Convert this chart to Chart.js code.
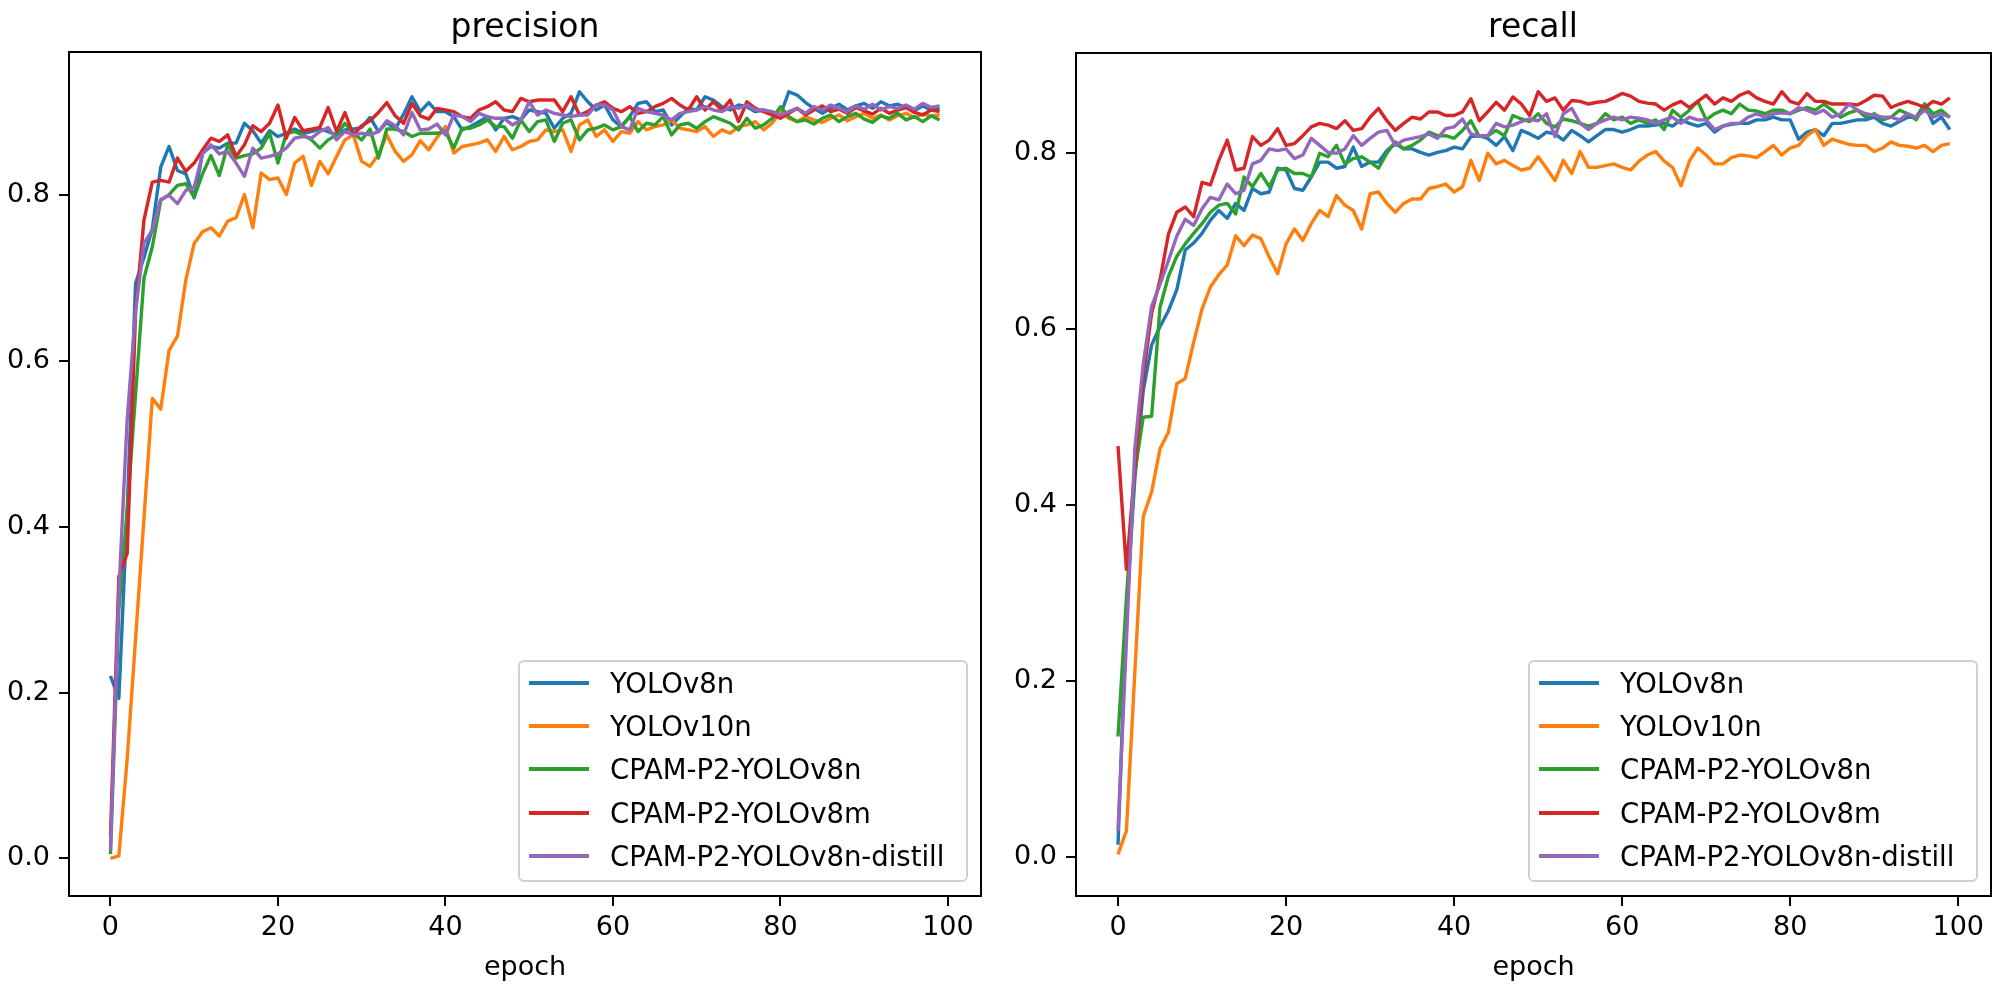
<!DOCTYPE html>
<html>
<head>
<meta charset="utf-8">
<title>precision / recall</title>
<script src="https://cdn.jsdelivr.net/npm/chart.js@4"></script>
<style>
    body {
        margin: 0;
        background: #ffffff;
        font-family: "DejaVu Sans", sans-serif;
    }

    #wrap {
        position: relative;
        width: 2000px;
        height: 989px;
    }

    .panel {
        position: absolute;
        top: 0;
        width: 1000px;
        height: 989px;
    }

    .panel canvas {
        position: absolute;
        left: 0;
        top: 0;
    }

    .title {
        position: absolute;
        top: 9px;
        width: 600px;
        height: 33px;
        line-height: 33px;
        font-size: 33px;
        text-align: center;
        color: #000;
    }

    .legend {
        position: absolute;
        top: 660px;
        width: 450px;
        height: 222px;
        box-sizing: border-box;
        background: rgba(255,255,255,0.8);
        border: 2px solid #d0d0d0;
        border-radius: 6px;
    }

    .row {
        position: absolute;
        left: 0;
        width: 100%;
        height: 43px;
    }

    .row .handle {
        position: absolute;
        left: 9px;
        top: 19px;
        width: 60px;
        height: 4px;
    }

    .row .label {
        position: absolute;
        left: 90px;
        top: 0;
        line-height: 43px;
        font-size: 27.5px;
        color: #000;
        white-space: nowrap;
    }
</style>
</head>
<body>

<div id="wrap">
    <div class="panel" style="left:0">
        <canvas id="precisionChart" width="1000" height="989"></canvas>
        <div class="title" style="left:225px">precision</div>
        <div class="legend" id="precisionLegend" style="left:518px"></div>
    </div>
    <div class="panel" style="left:1000px">
        <canvas id="recallChart" width="1000" height="989"></canvas>
        <div class="title" style="left:233px">recall</div>
        <div class="legend" id="recallLegend" style="left:528px"></div>
    </div>
</div>

<script>
// categories
const epochs = Array.from({ length: 100 }, (_, i) => i);
const modelNames = ['YOLOv8n', 'YOLOv10n', 'CPAM-P2-YOLOv8n', 'CPAM-P2-YOLOv8m', 'CPAM-P2-YOLOv8n-distill'];

// tick labels
const xTicks = [0, 20, 40, 60, 80, 100];
const precisionTicks = [0.0, 0.2, 0.4, 0.6, 0.8];
const recallTicks = [0.0, 0.2, 0.4, 0.6, 0.8];

// precision
const precisionYOLOv8n = [
    0.220, 0.193, 0.420, 0.694, 0.725, 0.760, 0.834, 0.859, 0.830, 0.826,
    0.797, 0.851, 0.859, 0.857, 0.863, 0.863, 0.887, 0.878, 0.863, 0.878,
    0.871, 0.875, 0.880, 0.875, 0.877, 0.880, 0.877, 0.873, 0.879, 0.880,
    0.882, 0.894, 0.877, 0.888, 0.880, 0.898, 0.919, 0.901, 0.912, 0.901,
    0.901, 0.895, 0.879, 0.883, 0.889, 0.895, 0.879, 0.893, 0.895, 0.891,
    0.903, 0.901, 0.899, 0.881, 0.893, 0.899, 0.925, 0.913, 0.903, 0.909,
    0.891, 0.883, 0.895, 0.911, 0.913, 0.901, 0.903, 0.885, 0.895, 0.905,
    0.903, 0.919, 0.915, 0.907, 0.903, 0.909, 0.907, 0.901, 0.903, 0.899,
    0.897, 0.925, 0.921, 0.912, 0.905, 0.899, 0.905, 0.910, 0.903, 0.908,
    0.911, 0.905, 0.913, 0.908, 0.910, 0.906, 0.902, 0.908, 0.903, 0.905
];
const precisionYOLOv10n = [
    0.000, 0.003, 0.120, 0.265, 0.410, 0.555, 0.542, 0.613, 0.630, 0.698,
    0.742, 0.756, 0.761, 0.751, 0.769, 0.773, 0.801, 0.761, 0.827, 0.819,
    0.821, 0.801, 0.839, 0.847, 0.812, 0.841, 0.826, 0.847, 0.867, 0.873,
    0.841, 0.835, 0.849, 0.873, 0.853, 0.841, 0.849, 0.866, 0.855, 0.870,
    0.883, 0.851, 0.859, 0.861, 0.863, 0.867, 0.853, 0.871, 0.855, 0.859,
    0.865, 0.867, 0.879, 0.877, 0.879, 0.853, 0.885, 0.891, 0.871, 0.879,
    0.865, 0.877, 0.875, 0.889, 0.879, 0.883, 0.885, 0.891, 0.881, 0.879,
    0.877, 0.883, 0.871, 0.879, 0.875, 0.883, 0.885, 0.889, 0.879, 0.887,
    0.901, 0.893, 0.889, 0.895, 0.891, 0.888, 0.893, 0.897, 0.890, 0.895,
    0.899, 0.893, 0.897, 0.891, 0.896, 0.899, 0.894, 0.898, 0.896, 0.897
];
const precisionCPAMv8n = [
    0.005, 0.300, 0.420, 0.560, 0.700, 0.738, 0.794, 0.801, 0.812, 0.814,
    0.798, 0.826, 0.848, 0.824, 0.861, 0.845, 0.848, 0.850, 0.857, 0.875,
    0.839, 0.875, 0.877, 0.873, 0.867, 0.857, 0.867, 0.873, 0.887, 0.875,
    0.867, 0.880, 0.845, 0.880, 0.880, 0.877, 0.871, 0.875, 0.875, 0.875,
    0.877, 0.857, 0.881, 0.881, 0.885, 0.891, 0.883, 0.883, 0.869, 0.891,
    0.877, 0.889, 0.891, 0.865, 0.887, 0.891, 0.867, 0.879, 0.881, 0.885,
    0.879, 0.883, 0.895, 0.877, 0.887, 0.885, 0.895, 0.873, 0.885, 0.887,
    0.881, 0.889, 0.895, 0.891, 0.887, 0.879, 0.893, 0.881, 0.885, 0.893,
    0.907, 0.895, 0.889, 0.891, 0.886, 0.893, 0.897, 0.889, 0.895, 0.899,
    0.892, 0.888, 0.896, 0.893, 0.899, 0.891, 0.895, 0.889, 0.896, 0.891
];
const precisionCPAMv8m = [
    0.026, 0.340, 0.368, 0.660, 0.770, 0.816, 0.818, 0.816, 0.845, 0.829,
    0.839, 0.855, 0.869, 0.865, 0.873, 0.847, 0.861, 0.884, 0.877, 0.887,
    0.909, 0.869, 0.894, 0.878, 0.880, 0.882, 0.906, 0.877, 0.900, 0.873,
    0.884, 0.890, 0.900, 0.912, 0.896, 0.887, 0.911, 0.896, 0.892, 0.905,
    0.903, 0.901, 0.895, 0.893, 0.903, 0.907, 0.913, 0.903, 0.901, 0.917,
    0.913, 0.915, 0.915, 0.915, 0.901, 0.919, 0.897, 0.901, 0.909, 0.913,
    0.905, 0.901, 0.907, 0.899, 0.901, 0.907, 0.911, 0.917, 0.909, 0.903,
    0.919, 0.903, 0.913, 0.903, 0.915, 0.889, 0.913, 0.905, 0.901, 0.897,
    0.893, 0.899, 0.905, 0.897, 0.903, 0.908, 0.901, 0.904, 0.899, 0.906,
    0.902, 0.898, 0.905, 0.899, 0.903, 0.906, 0.900, 0.897, 0.903, 0.901
];
const precisionDistill = [
    0.010, 0.320, 0.530, 0.660, 0.742, 0.758, 0.795, 0.800, 0.790, 0.806,
    0.810, 0.850, 0.861, 0.850, 0.853, 0.839, 0.823, 0.857, 0.845, 0.847,
    0.850, 0.857, 0.869, 0.871, 0.869, 0.877, 0.882, 0.867, 0.877, 0.873,
    0.875, 0.873, 0.877, 0.890, 0.884, 0.873, 0.900, 0.879, 0.880, 0.886,
    0.873, 0.897, 0.895, 0.889, 0.899, 0.895, 0.893, 0.893, 0.885, 0.891,
    0.913, 0.897, 0.903, 0.899, 0.897, 0.895, 0.897, 0.897, 0.909, 0.909,
    0.903, 0.883, 0.879, 0.905, 0.901, 0.899, 0.897, 0.891, 0.899, 0.901,
    0.903, 0.907, 0.903, 0.901, 0.907, 0.905, 0.909, 0.903, 0.903, 0.901,
    0.897, 0.901, 0.905, 0.899, 0.907, 0.903, 0.909, 0.905, 0.901, 0.908,
    0.904, 0.910, 0.903, 0.907, 0.905, 0.909, 0.904, 0.911, 0.906, 0.908
];

// recall
const recallYOLOv8n = [
    0.014, 0.280, 0.430, 0.530, 0.582, 0.603, 0.621, 0.645, 0.690, 0.698,
    0.709, 0.724, 0.735, 0.726, 0.743, 0.735, 0.760, 0.754, 0.756, 0.783,
    0.781, 0.760, 0.758, 0.773, 0.790, 0.790, 0.783, 0.785, 0.807, 0.785,
    0.790, 0.790, 0.803, 0.811, 0.805, 0.805, 0.801, 0.798, 0.801, 0.803,
    0.807, 0.805, 0.819, 0.820, 0.817, 0.809, 0.819, 0.803, 0.826, 0.822,
    0.817, 0.824, 0.822, 0.815, 0.826, 0.820, 0.813, 0.820, 0.827, 0.827,
    0.824, 0.827, 0.831, 0.831, 0.832, 0.834, 0.831, 0.838, 0.834, 0.831,
    0.834, 0.824, 0.831, 0.833, 0.834, 0.834, 0.838, 0.838, 0.841, 0.838,
    0.838, 0.816, 0.824, 0.827, 0.820, 0.834, 0.834, 0.836, 0.838, 0.838,
    0.841, 0.834, 0.831, 0.836, 0.841, 0.841, 0.856, 0.834, 0.841, 0.827
];
const recallYOLOv10n = [
    0.003, 0.030, 0.210, 0.387, 0.415, 0.464, 0.483, 0.538, 0.544, 0.585,
    0.623, 0.648, 0.662, 0.673, 0.706, 0.695, 0.707, 0.703, 0.682, 0.663,
    0.697, 0.714, 0.701, 0.720, 0.735, 0.728, 0.752, 0.741, 0.735, 0.714,
    0.754, 0.756, 0.743, 0.733, 0.743, 0.748, 0.748, 0.760, 0.762, 0.765,
    0.756, 0.762, 0.792, 0.769, 0.800, 0.788, 0.792, 0.786, 0.781, 0.783,
    0.796, 0.783, 0.769, 0.792, 0.777, 0.802, 0.784, 0.784, 0.786, 0.788,
    0.784, 0.781, 0.791, 0.798, 0.802, 0.791, 0.784, 0.763, 0.791, 0.806,
    0.798, 0.788, 0.788, 0.795, 0.798, 0.797, 0.795, 0.802, 0.809, 0.798,
    0.806, 0.809, 0.820, 0.827, 0.809, 0.816, 0.813, 0.810, 0.809, 0.809,
    0.802, 0.806, 0.813, 0.809, 0.808, 0.806, 0.809, 0.802, 0.809, 0.811
];
const recallCPAMv8n = [
    0.137, 0.294, 0.437, 0.500, 0.501, 0.625, 0.660, 0.683, 0.697, 0.709,
    0.720, 0.733, 0.741, 0.743, 0.731, 0.773, 0.762, 0.777, 0.762, 0.781,
    0.783, 0.777, 0.777, 0.773, 0.800, 0.796, 0.809, 0.788, 0.794, 0.796,
    0.790, 0.783, 0.800, 0.813, 0.805, 0.809, 0.815, 0.824, 0.820, 0.820,
    0.817, 0.826, 0.837, 0.819, 0.820, 0.826, 0.820, 0.843, 0.839, 0.836,
    0.845, 0.834, 0.830, 0.839, 0.837, 0.834, 0.831, 0.834, 0.845, 0.838,
    0.841, 0.834, 0.838, 0.834, 0.838, 0.827, 0.849, 0.841, 0.849, 0.859,
    0.838, 0.845, 0.849, 0.845, 0.856, 0.849, 0.848, 0.845, 0.849, 0.849,
    0.845, 0.849, 0.852, 0.849, 0.856, 0.849, 0.841, 0.846, 0.849, 0.841,
    0.845, 0.838, 0.841, 0.849, 0.845, 0.838, 0.856, 0.845, 0.849, 0.841
];
const recallCPAMv8m = [
    0.467, 0.327, 0.442, 0.546, 0.618, 0.656, 0.708, 0.733, 0.739, 0.728,
    0.767, 0.764, 0.792, 0.815, 0.781, 0.783, 0.819, 0.809, 0.815, 0.828,
    0.809, 0.811, 0.820, 0.830, 0.834, 0.832, 0.828, 0.837, 0.826, 0.828,
    0.841, 0.851, 0.837, 0.826, 0.834, 0.841, 0.839, 0.847, 0.847, 0.843,
    0.843, 0.847, 0.862, 0.837, 0.847, 0.858, 0.849, 0.864, 0.856, 0.843,
    0.870, 0.859, 0.863, 0.849, 0.860, 0.859, 0.856, 0.858, 0.859, 0.863,
    0.868, 0.865, 0.859, 0.857, 0.856, 0.849, 0.855, 0.859, 0.852, 0.859,
    0.866, 0.856, 0.863, 0.859, 0.866, 0.870, 0.863, 0.859, 0.856, 0.870,
    0.859, 0.856, 0.868, 0.859, 0.859, 0.856, 0.856, 0.856, 0.855, 0.860,
    0.866, 0.865, 0.852, 0.856, 0.859, 0.856, 0.852, 0.859, 0.856, 0.863
];
const recallDistill = [
    0.030, 0.245, 0.464, 0.560, 0.626, 0.651, 0.678, 0.706, 0.725, 0.718,
    0.737, 0.750, 0.747, 0.765, 0.754, 0.758, 0.788, 0.792, 0.805, 0.803,
    0.805, 0.794, 0.798, 0.817, 0.809, 0.801, 0.800, 0.805, 0.820, 0.809,
    0.817, 0.824, 0.826, 0.809, 0.815, 0.817, 0.819, 0.822, 0.817, 0.828,
    0.830, 0.839, 0.822, 0.820, 0.820, 0.834, 0.830, 0.832, 0.836, 0.839,
    0.837, 0.845, 0.819, 0.845, 0.851, 0.834, 0.827, 0.834, 0.838, 0.841,
    0.838, 0.841, 0.840, 0.838, 0.834, 0.838, 0.841, 0.834, 0.841, 0.838,
    0.838, 0.827, 0.831, 0.834, 0.834, 0.841, 0.845, 0.841, 0.845, 0.846,
    0.845, 0.852, 0.849, 0.845, 0.849, 0.841, 0.845, 0.856, 0.849, 0.845,
    0.843, 0.841, 0.841, 0.838, 0.845, 0.841, 0.849, 0.841, 0.845, 0.841
];

// matplotlib tab10
const modelColors = ['#1f77b4', '#ff7f0e', '#2ca02c', '#d62728', '#9467bd'];

Chart.defaults.font.family = '"DejaVu Sans", sans-serif';
Chart.defaults.font.size = 27;
Chart.defaults.color = '#000';

// box around the plot area, like matplotlib spines
const framePlugin = {
    id: 'frame',
    afterDatasetsDraw(chart) {
        const { ctx, chartArea: a } = chart;
        ctx.save();
        ctx.strokeStyle = '#000';
        ctx.lineWidth = 2;
        ctx.strokeRect(a.left, a.top, a.right - a.left, a.bottom - a.top);
        ctx.restore();
    }
};

function makePanel(canvasId, legendId, series, yMin, yMax, yTicks, yWidth, padRight, padTop, xMin, xMax) {
    const datasets = series.map((values, i) => ({
        label: modelNames[i],
        data: values.map((v, j) => ({ x: epochs[j], y: v })),
        borderColor: modelColors[i],
        backgroundColor: modelColors[i],
        borderWidth: 3.4,
        borderJoinStyle: 'round',
        pointRadius: 0,
        tension: 0,
        fill: false,
        order: series.length - 1 - i
    }));

    new Chart(document.getElementById(canvasId), {
        type: 'line',
        data: { datasets },
        options: {
            responsive: false,
            animation: false,
            devicePixelRatio: 1,
            layout: { padding: { left: 0, right: padRight, top: padTop, bottom: 0 } },
            plugins: {
                legend: { display: false },
                tooltip: { enabled: false }
            },
            scales: {
                x: {
                    type: 'linear',
                    min: xMin,
                    max: xMax,
                    afterBuildTicks: (s) => { s.ticks = xTicks.map(v => ({ value: v })); },
                    afterFit: (s) => { s.height = 93; },
                    ticks: { padding: 6, maxRotation: 0, callback: (v) => String(v) },
                    grid: { drawOnChartArea: false, tickLength: 10, color: '#000', lineWidth: 2 },
                    border: { display: false },
                    title: { display: true, text: 'epoch', font: { size: 27 }, padding: { top: 0, bottom: 5 } }
                },
                y: {
                    type: 'linear',
                    min: yMin,
                    max: yMax,
                    afterBuildTicks: (s) => { s.ticks = yTicks.map(v => ({ value: v })); },
                    afterFit: (s) => { s.width = yWidth; },
                    ticks: { padding: 9, callback: (v) => v.toFixed(1) },
                    grid: { drawOnChartArea: false, tickLength: 10, color: '#000', lineWidth: 2 },
                    border: { display: false }
                }
            }
        },
        plugins: [framePlugin]
    });

    // legend box in the lower right corner of the axes
    const box = document.getElementById(legendId);
    modelNames.forEach((name, i) => {
        const row = document.createElement('div');
        row.className = 'row';
        row.style.top = (i * 43.2) + 'px';
        row.innerHTML = '<div class="handle" style="background:' + modelColors[i] + '"></div>' +
            '<div class="label">' + name + '</div>';
        box.appendChild(row);
    });
}

makePanel('precisionChart', 'precisionLegend',
    [precisionYOLOv8n, precisionYOLOv10n, precisionCPAMv8n, precisionCPAMv8m, precisionDistill],
    -0.0455, 0.973, precisionTicks, 69, 19, 52, -4.95, 103.95);

makePanel('recallChart', 'recallLegend',
    [recallYOLOv8n, recallYOLOv10n, recallCPAMv8n, recallCPAMv8m, recallDistill],
    -0.0443, 0.914, recallTicks, 76, 9, 53, -5.0, 103.9);
</script>

</body>
</html>
